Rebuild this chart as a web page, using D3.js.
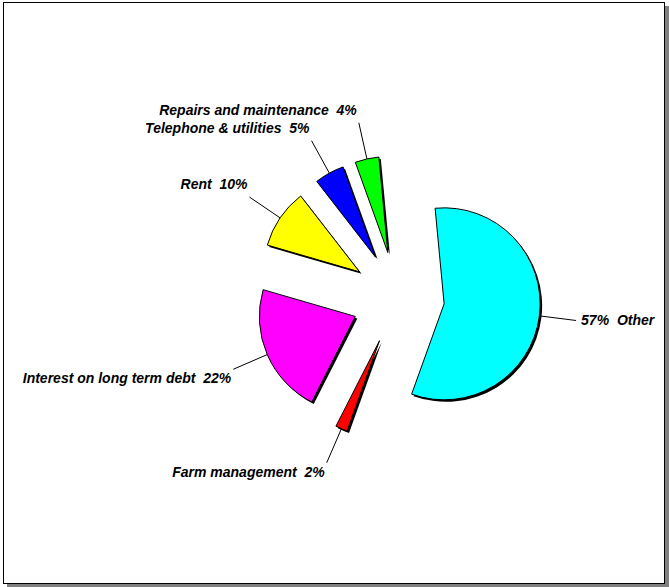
<!DOCTYPE html>
<html>
<head>
<meta charset="utf-8">
<script src="https://cdn.jsdelivr.net/npm/d3@7/dist/d3.min.js"></script>
<style>
    body { margin: 0; background: #fff; }
    .slice-label { font-family: "Liberation Sans", Arial, sans-serif; font-size: 14px;
                   font-weight: bold; font-style: italic; white-space: pre; }
</style>
</head>
<body>
<div id="pie-chart"></div>
<script>
// chart data, clockwise from the top
var categories = ["Other", "Farm management", "Interest on long term debt", "Rent",
                  "Telephone & utilities", "Repairs and maintenance"];
var shares = [57, 2, 22, 10, 5, 4];
var colors = ["#00ffff", "#ff0000", "#ff00ff", "#ffff00", "#0000ff", "#00ff00"];

var width = 669, height = 587;
var cx = 398, cy = 298;
var radius = 96, explode = 46.5, leaderLength = 37;
var startDeg = -5.4;

var svg = d3.select("#pie-chart")
    .append("svg")
    .attr("width", width)
    .attr("height", height);

// frame with drop shadow
svg.append("rect")
    .attr("x", 7).attr("y", 6)
    .attr("width", 662).attr("height", 581)
    .attr("fill", "#808080");
svg.append("rect")
    .attr("x", 3.5).attr("y", 2.5)
    .attr("width", 661).attr("height", 581)
    .attr("fill", "#fff")
    .attr("stroke", "#000")
    .attr("stroke-width", 1);

var data = categories.map(function (c, i) {
    return {name: c, value: shares[i], color: colors[i]};
});

var start = startDeg * Math.PI / 180;
var pie = d3.pie()
    .sort(null)
    .value(function (d) { return d.value; })
    .startAngle(start)
    .endAngle(start + 2 * Math.PI);

var arcs = pie(data);

var arc = d3.arc()
    .innerRadius(0)
    .outerRadius(radius);

function direction(d) {
    var a = (d.startAngle + d.endAngle) / 2;
    return [Math.sin(a), -Math.cos(a)];
}

function apex(d) {
    var dir = direction(d);
    return [cx + explode * dir[0], cy + explode * dir[1]];
}

var g = svg.append("g");

// shadows
g.selectAll(".slice-shadow")
    .data(arcs)
    .enter().append("path")
    .attr("class", "slice-shadow")
    .attr("transform", function (d) {
        var p = apex(d);
        return "translate(" + (p[0] + 2) + "," + (p[1] + 2) + ")";
    })
    .attr("d", arc)
    .attr("fill", "#000");

// slices
g.selectAll(".slice")
    .data(arcs)
    .enter().append("path")
    .attr("class", "slice")
    .attr("transform", function (d) {
        var p = apex(d);
        return "translate(" + p[0] + "," + p[1] + ")";
    })
    .attr("d", arc)
    .attr("fill", function (d) { return d.data.color; })
    .attr("stroke", "#000")
    .attr("stroke-width", 1)
    .attr("stroke-linejoin", "round");

// leader lines
g.selectAll(".leader")
    .data(arcs)
    .enter().append("line")
    .attr("class", "leader")
    .attr("x1", function (d) { return apex(d)[0] + radius * direction(d)[0]; })
    .attr("y1", function (d) { return apex(d)[1] + radius * direction(d)[1]; })
    .attr("x2", function (d) { return apex(d)[0] + (radius + leaderLength) * direction(d)[0]; })
    .attr("y2", function (d) { return apex(d)[1] + (radius + leaderLength) * direction(d)[1]; })
    .attr("stroke", "#000")
    .attr("stroke-width", 1);

// labels
g.selectAll(".slice-label")
    .data(arcs)
    .enter().append("text")
    .attr("class", "slice-label")
    .attr("fill", "#000")
    .attr("text-anchor", function (d) { return direction(d)[0] > 0 ? "start" : "end"; })
    .attr("x", function (d) {
        var dir = direction(d);
        var x = apex(d)[0] + (radius + leaderLength) * dir[0];
        return dir[0] > 0 ? x + 5 : x - 2;
    })
    .attr("y", function (d) {
        var dir = direction(d);
        var y = apex(d)[1] + (radius + leaderLength) * dir[1];
        var shift = dir[1] < -0.3 ? -8 : (dir[1] > 0.3 ? 14 : 5);
        return y + shift;
    })
    .text(function (d) {
        var pct = d.data.value + "%";
        return direction(d)[0] > 0 ? pct + "  " + d.data.name : d.data.name + "  " + pct;
    });
</script>
</body>
</html>
